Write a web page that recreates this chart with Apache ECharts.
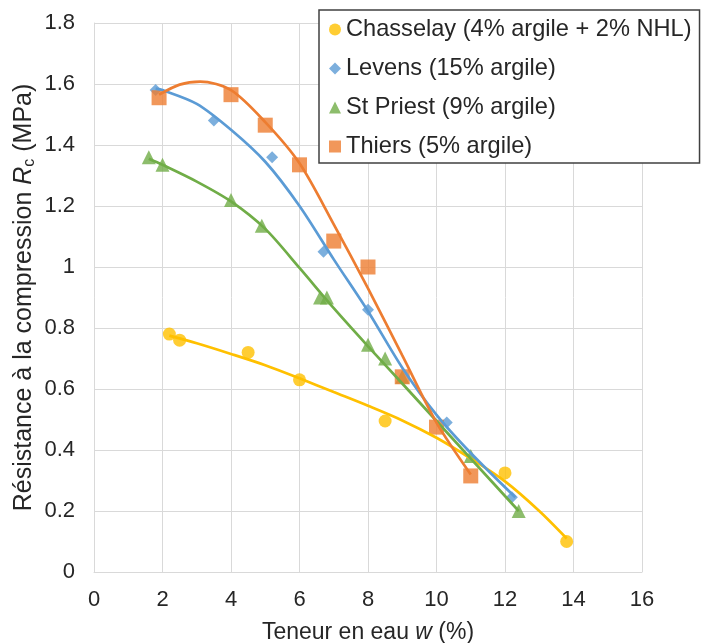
<!DOCTYPE html>
<html>
<head>
<meta charset="utf-8">
<style>
  html, body { margin: 0; padding: 0; background: #fff; }
  #chart { width: 702px; height: 643px; }
</style>
<script src="https://cdn.jsdelivr.net/npm/echarts@6/dist/echarts.min.js"></script>
</head>
<body>
<div id="chart"></div>
<script>
// measured points [w %, Rc MPa]
const chasselay = [[2.2, 0.78], [2.5, 0.76], [4.5, 0.72], [6, 0.63], [8.5, 0.495], [12, 0.325], [13.8, 0.1]];
const levens = [[1.8, 1.58], [3.5, 1.48], [5.2, 1.36], [6.7, 1.05], [8, 0.86], [10.3, 0.49], [12.2, 0.245]];
const stPriest = [[1.6, 1.36], [2.0, 1.335], [4, 1.22], [4.9, 1.135], [6.6, 0.9], [6.8, 0.9], [8, 0.745], [8.5, 0.7], [9, 0.64], [11, 0.38], [12.4, 0.2]];
const thiers = [[1.9, 1.555], [4, 1.565], [5, 1.465], [6, 1.335], [7, 1.085], [8, 1.0], [9, 0.64], [10, 0.475], [11, 0.315]];

// trend curves
const chasselayFit = [[2.2, 0.775], [3, 0.75], [4, 0.715], [5, 0.678], [6, 0.635], [7, 0.59], [8, 0.545], [9, 0.497], [10, 0.44], [11, 0.372], [12, 0.297], [13, 0.2], [13.8, 0.11]];
const levensFit = [[1.8, 1.585], [2, 1.58], [3, 1.535], [4, 1.45], [5, 1.345], [6, 1.2], [7, 1.025], [8, 0.855], [9, 0.67], [10, 0.515], [11, 0.39], [12.3, 0.245]];
const stPriestFit = [[1.6, 1.355], [2, 1.335], [3, 1.28], [4, 1.215], [5, 1.125], [6, 0.997], [7, 0.865], [8, 0.74], [9, 0.618], [10, 0.495], [11, 0.372], [12.4, 0.2]];
const thiersFit = [[1.9, 1.565], [2.5, 1.598], [3.1, 1.608], [4, 1.58], [5, 1.475], [6, 1.34], [7, 1.14], [8, 0.93], [9, 0.71], [10, 0.49], [11, 0.32]];

const names = ['Chasselay (4% argile + 2% NHL)', 'Levens (15% argile)', 'St Priest (9% argile)', 'Thiers (5% argile)'];
const colors = ['#FFC000', '#5B9BD5', '#70AD47', '#ED7D31'];
const symbols = ['circle', 'diamond', 'triangle', 'rect'];
const symbolSizes = [13, 12, 14, 15];
const pointSets = [chasselay, levens, stPriest, thiers];
const fitSets = [chasselayFit, levensFit, stPriestFit, thiersFit];

const textColor = '#262626';
const gridColor = '#d9d9d9';
const font = 'Liberation Sans, Arial, sans-serif';

let myChart = echarts.init(document.getElementById('chart'));

let series = [];
fitSets.forEach((fit, i) => {
  series.push({
    name: names[i] + ' fit',
    type: 'line',
    data: fit,
    smooth: 0.3,
    symbol: 'none',
    lineStyle: { color: colors[i], width: 2.7 },
    z: 3,
    silent: true,
  });
});
pointSets.forEach((pts, i) => {
  series.push({
    name: names[i],
    type: 'scatter',
    data: pts,
    symbol: symbols[i],
    symbolSize: symbolSizes[i],
    itemStyle: { color: colors[i] },
    z: 2,
  });
});

let option = {
  animation: false,
  textStyle: { fontFamily: font },
  grid: {
    left: 94,
    top: 23,
    width: 548,
    height: 549,
    containLabel: false,
    outerBoundsMode: 'none',
  },
  legend: {
    data: names.map((n, i) => ({ name: n, icon: symbols[i] })),
    orient: 'vertical',
    left: 319,
    top: 10,
    itemWidth: 12,
    itemHeight: 12,
    itemGap: 14,
    padding: [7, 8, 4, 10],
    borderColor: '#404040',
    borderWidth: 1.5,
    backgroundColor: '#fff',
    textStyle: { fontSize: 23.6, lineHeight: 25, color: textColor, fontFamily: font },
    z: 10,
  },
  xAxis: {
    type: 'value',
    min: 0,
    max: 16,
    interval: 2,
    name: '{a|Teneur en eau }{i|w}{a| (%)}',
    nameLocation: 'middle',
    nameGap: 49,
    nameTextStyle: {
      rich: {
        a: { fontSize: 23, color: textColor, fontFamily: font },
        i: { fontSize: 23, color: textColor, fontFamily: font, fontStyle: 'italic' },
      },
    },
    axisLine: { show: true, lineStyle: { color: gridColor } },
    axisTick: { show: false },
    axisLabel: { fontSize: 22, color: textColor, margin: 17 },
    splitLine: { show: true, lineStyle: { color: gridColor, width: 1 } },
  },
  yAxis: {
    type: 'value',
    min: 0,
    max: 1.8,
    interval: 0.2,
    name: '{a|Résistance à la compression }{i|R}{s|c}{a| (MPa)}',
    nameLocation: 'middle',
    nameGap: 56,
    nameMoveOverlap: false,
    nameTextStyle: {
      rich: {
        a: { fontSize: 25, color: textColor, fontFamily: font },
        i: { fontSize: 25, color: textColor, fontFamily: font, fontStyle: 'italic' },
        s: { fontSize: 16, color: textColor, fontFamily: font, padding: [12, 0, 0, 0] },
      },
    },
    axisLine: { show: true, lineStyle: { color: gridColor } },
    axisTick: { show: false },
    axisLabel: {
      fontSize: 22,
      color: textColor,
      margin: 19,
      formatter: v => String(Math.round(v * 10) / 10),
    },
    splitLine: { show: true, lineStyle: { color: gridColor, width: 1 } },
  },
  series: series,
};
myChart.setOption(option);
</script>
</body>
</html>
